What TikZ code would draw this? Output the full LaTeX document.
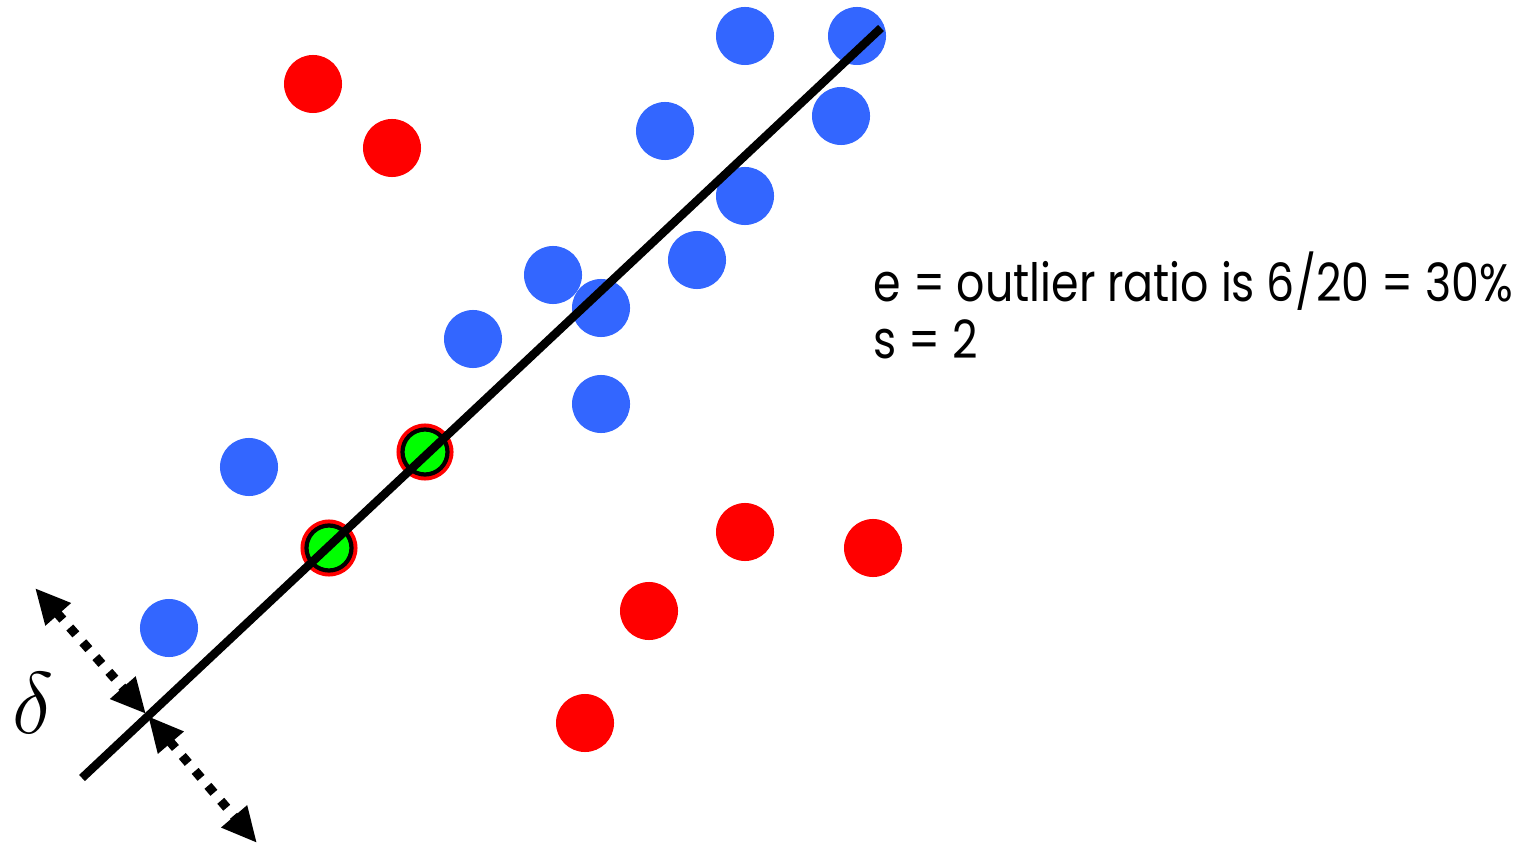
\documentclass[tikz,border=0pt]{standalone}
\usepackage{fontspec}
\setmainfont[FakeStretch=0.84]{Poppins}
\usepackage{tikz}
\usetikzlibrary{arrows.meta, positioning}
\definecolor{inColor}{HTML}{3366FF}
\definecolor{outColor}{HTML}{FF0000}
\definecolor{pickColor}{HTML}{00FF00}
\begin{document}
\begin{tikzpicture}[x=0.01cm, y=-0.01cm, >={Triangle[length=10pt, width=9pt]},
    inlier/.style={circle, fill=inColor, inner sep=0pt, minimum size=0.58cm},
    outlier/.style={circle, fill=outColor, inner sep=0pt, minimum size=0.58cm},
    ring/.style={circle, fill=outColor, inner sep=0pt, minimum size=0.57cm},
    sample/.style={circle, fill=pickColor, draw=black, line width=1.2pt, inner sep=0pt, minimum size=0.45cm},
    dots/.style={line width=2.6pt, dash pattern=on 2.6pt off 3pt},
    legend/.style={anchor=base west, inner sep=0pt, font=\fontsize{15}{18}\selectfont}]
        \useasboundingbox (0, 0) rectangle (1534, 846);

        % Outliers (red)
        \node[outlier] (o1) at (313, 84) {};
        \node[outlier] (o2) at (392, 148) {};
        \node[outlier] (o3) at (745, 532) {};
        \node[outlier] (o4) at (873, 548) {};
        \node[outlier] (o5) at (649, 611) {};
        \node[outlier] (o6) at (585, 723) {};

        % Inliers (blue)
        \node[inlier] (i1) at (745, 36) {};
        \node[inlier] (i2) at (857, 36) {};
        \node[inlier] (i3) at (665, 131) {};
        \node[inlier] (i4) at (841, 116) {};
        \node[inlier] (i5) at (745, 196) {};
        \node[inlier] (i6) at (697, 260) {};
        \node[inlier] (i7) at (553, 275) {};
        \node[inlier] (i8) at (601, 308) {};
        \node[inlier] (i9) at (473, 339) {};
        \node[inlier] (i10) at (601, 404) {};
        \node[inlier] (i11) at (249, 467) {};
        \node[inlier] (i12) at (169, 628) {};

        % Sampled pair (s = 2)
        \node[ring] (r1) at (425, 452) {};
        \node[ring] (r2) at (329, 548) {};
        \node[sample] (s1) at (r1) {};
        \node[sample] (s2) at (r2) {};

        % Fitted line
        \coordinate (lineA) at (82, 778);
        \coordinate (lineB) at (881, 28);
        \draw[line width=2.4pt] (lineA) -- (lineB);

        % Threshold delta
        \coordinate (tolA) at (35, 588);
        \coordinate (tolB) at (146, 714);
        \coordinate (tolC) at (148, 716);
        \coordinate (tolD) at (257, 843);
        \draw[dots, <->] (tolA) -- (tolB);
        \draw[dots, <->] (tolC) -- (tolD);
        \node[font=\fontsize{30}{30}\selectfont] (delta) at (33, 703) {$\delta$};

        % Legend text
        \node[legend] (ratio) at (873, 302) {e = outlier ratio is 6/20 = 30\%};
        \node[legend] (ssize) at (873, 358) {s = 2};
    \end{tikzpicture}
\end{document}
